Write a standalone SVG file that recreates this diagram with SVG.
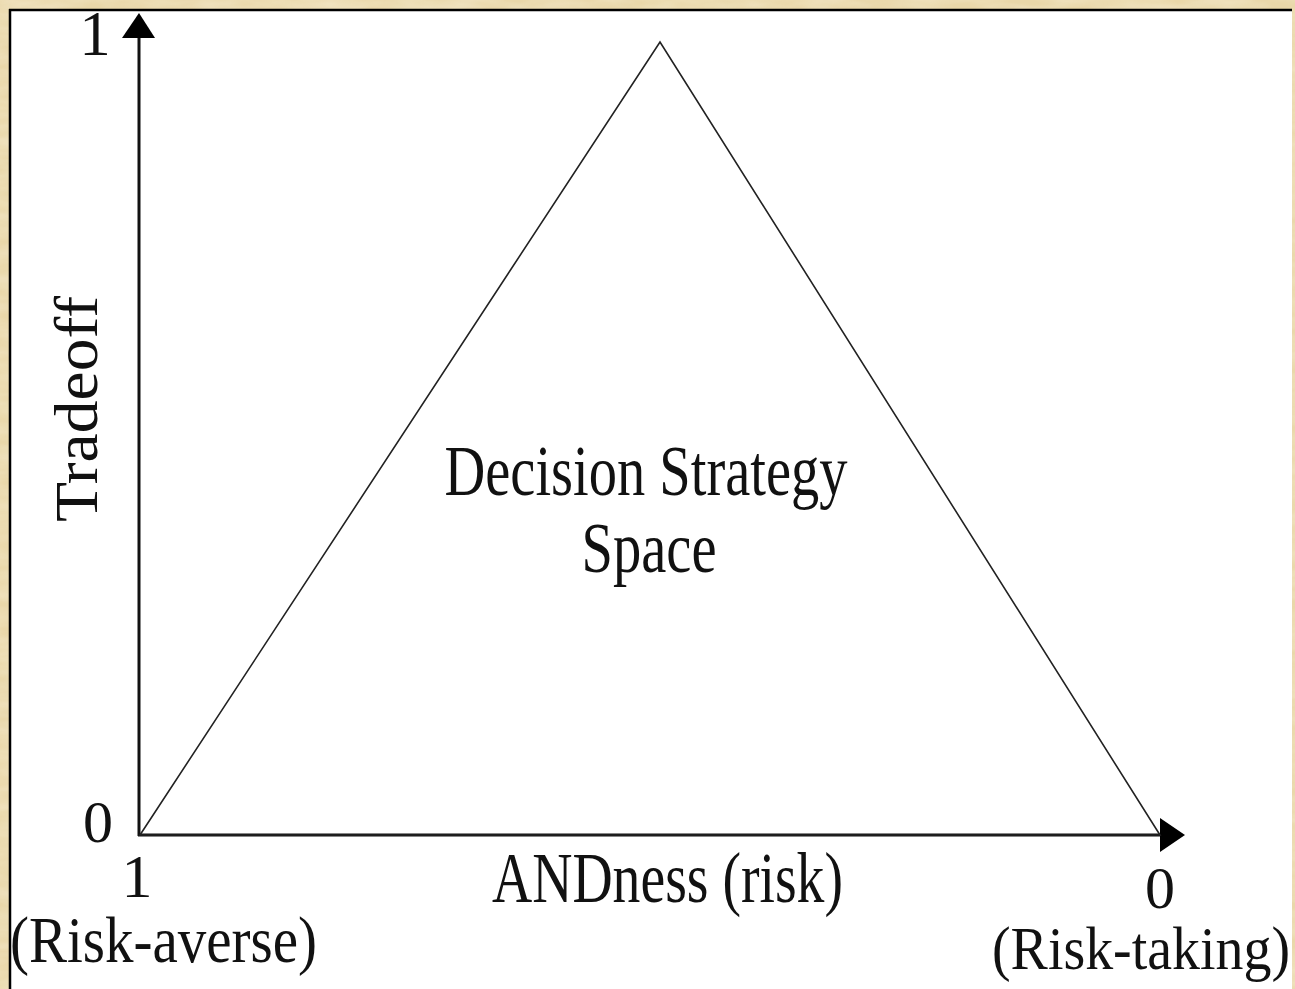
<svg xmlns="http://www.w3.org/2000/svg" width="1295" height="989" viewBox="0 0 1295 989">
  <defs>
    <style>
      .lbl { font-family: "Liberation Serif", "Times New Roman", serif; fill: #111; }
      .axis { stroke: #111; stroke-width: 3; fill: none; }
      .edge { stroke: #222; stroke-width: 1.6; fill: none; }
    </style>
    <filter id="parchment" x="0" y="0" width="100%" height="100%">
      <feTurbulence type="fractalNoise" baseFrequency="0.02 0.08" numOctaves="3" seed="4" result="n"/>
      <feColorMatrix in="n" type="matrix"
        values="0 0 0 0 0.92
                0 0 0 0 0.84
                0 0 0 0 0.64
                0 0 0 -1.2 0.9" result="tint"/>
      <feComposite in="tint" in2="SourceGraphic" operator="in"/>
    </filter>
  </defs>

  <!-- parchment frame and white panel -->
  <rect x="0" y="0" width="1295" height="989" fill="#e9d7a9"/>
  <rect x="0" y="0" width="1295" height="989" fill="#f1e2b8" filter="url(#parchment)" opacity="0.7"/>
  <rect x="10" y="10" width="1282" height="979" fill="#ffffff"/>
  <line x1="9" y1="10" x2="1292" y2="10" stroke="#000" stroke-width="2.5"/>
  <line x1="10" y1="9" x2="10" y2="989" stroke="#000" stroke-width="2.5"/>

  <!-- axes -->
  <g id="connectors">
    <line class="axis" x1="139" y1="836" x2="139" y2="36"/>
    <polygon points="139,13 122,38 155,38" fill="#000"/>
    <line class="axis" x1="138" y1="835" x2="1162" y2="835"/>
    <polygon points="1185,835 1160,818 1160,852" fill="#000"/>
  </g>

  <!-- decision strategy region -->
  <g id="triangle">
    <polygon class="edge" points="140,835 660,42 1160,835"/>
    <text class="lbl" x="646" y="495" font-size="72" text-anchor="middle" textLength="403" lengthAdjust="spacingAndGlyphs">Decision Strategy</text>
    <text class="lbl" x="649" y="572" font-size="72" text-anchor="middle" textLength="135" lengthAdjust="spacingAndGlyphs">Space</text>
  </g>

  <!-- vertical axis labels -->
  <g id="y-axis-labels">
    <text class="lbl" x="95" y="55" font-size="63" text-anchor="middle">1</text>
    <text class="lbl" x="98" y="842" font-size="60" text-anchor="middle">0</text>
    <text class="lbl" transform="translate(97,409) rotate(-90)" x="0" y="0" font-size="62" text-anchor="middle" textLength="226" lengthAdjust="spacingAndGlyphs">Tradeoff</text>
  </g>

  <!-- horizontal axis labels -->
  <g id="x-axis-labels">
    <text class="lbl" x="137" y="897" font-size="62" text-anchor="middle">1</text>
    <text class="lbl" x="10" y="962" font-size="65" textLength="307" lengthAdjust="spacingAndGlyphs">(Risk-averse)</text>
    <text class="lbl" x="492" y="902" font-size="71" textLength="351" lengthAdjust="spacingAndGlyphs">ANDness (risk)</text>
    <text class="lbl" x="1160" y="908" font-size="60" text-anchor="middle">0</text>
    <text class="lbl" x="992" y="969" font-size="62" textLength="298" lengthAdjust="spacingAndGlyphs">(Risk-taking)</text>
  </g>
</svg>
